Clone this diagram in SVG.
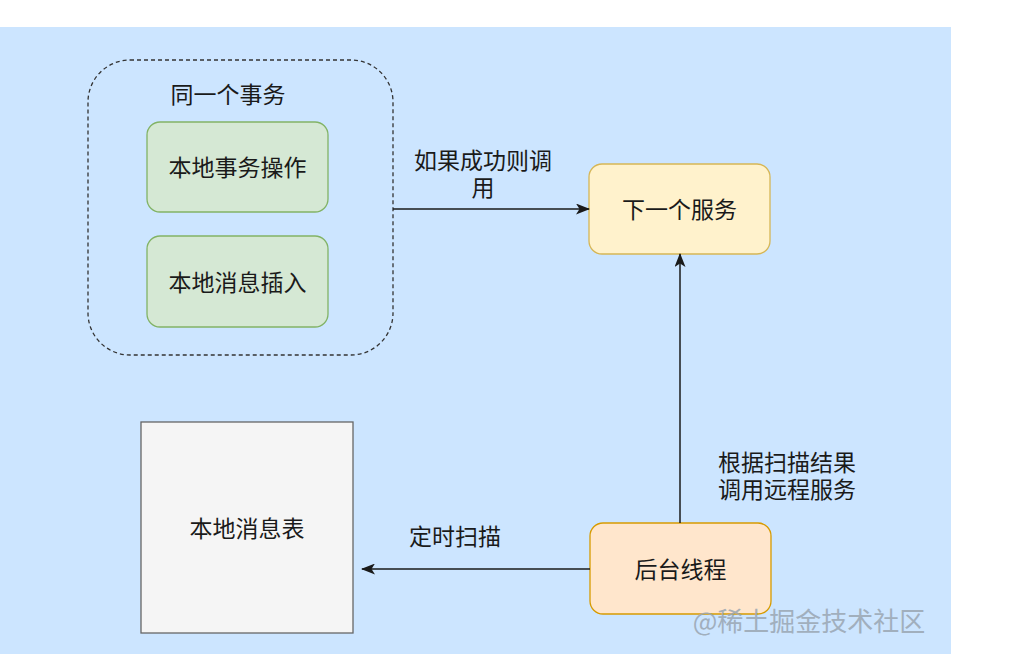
<svg xmlns="http://www.w3.org/2000/svg" width="1010" height="663" viewBox="0 0 1010 663">
<style>
  text { font-family: "Noto Sans CJK SC", "Microsoft YaHei", sans-serif; font-size: 23px; fill: #1a1a1a; }
  .c { text-anchor: middle; dominant-baseline: central; }
  .green { fill: #d5e8d4; stroke: #82b366; stroke-width: 1.3; }
  .yellow { fill: #fff2cc; stroke: #d6b656; stroke-width: 1.3; }
  .orange { fill: #ffe6cc; stroke: #d79b00; stroke-width: 1.3; }
  .conn { fill: none; stroke: #1a1a1a; stroke-width: 1.5; }
</style>
<defs>
  <marker id="arrow" viewBox="0 0 14 11" refX="13" refY="5.5" markerWidth="14" markerHeight="11" markerUnits="userSpaceOnUse" orient="auto">
    <path d="M0,0 L14,5.5 L0,11 L3.5,5.5 Z" fill="#1a1a1a"/>
  </marker>
</defs>
<rect x="0" y="0" width="1010" height="663" fill="#ffffff"/>
<rect x="0" y="27" width="951" height="627" fill="#cce5ff"/>

<g id="transaction-group">
  <rect x="88" y="60" width="305" height="295" rx="42" ry="42" fill="none" stroke="#333333" stroke-width="1.3" stroke-dasharray="4 3"/>
  <text x="228" y="93" class="c">同一个事务</text>
</g>
<g id="local-tx-op">
  <rect class="green" x="147" y="122" width="181" height="90" rx="13" ry="13"/>
  <text x="237.5" y="166" class="c">本地事务操作</text>
</g>
<g id="local-msg-insert">
  <rect class="green" x="147" y="236" width="181" height="91" rx="13" ry="13"/>
  <text x="237.5" y="280.5" class="c">本地消息插入</text>
</g>
<g id="next-service">
  <rect class="yellow" x="589" y="164" width="181" height="90" rx="13" ry="13"/>
  <text x="679.5" y="208" class="c">下一个服务</text>
</g>
<g id="background-thread">
  <rect class="orange" x="590" y="523" width="181" height="91" rx="13" ry="13"/>
  <text x="680.5" y="567.5" class="c">后台线程</text>
</g>
<g id="local-msg-table">
  <rect x="141" y="422" width="212" height="211" fill="#f5f5f5" stroke="#666666" stroke-width="1.3"/>
  <text x="247" y="527" class="c">本地消息表</text>
</g>

<g id="connectors">
  <path class="conn" d="M393,209 L589,209" marker-end="url(#arrow)"/>
  <text class="c"><tspan x="483" y="159">如果成功则调</tspan><tspan x="483" y="186">用</tspan></text>
  <path class="conn" d="M680,523 L680,254" marker-end="url(#arrow)"/>
  <text class="c"><tspan x="787" y="461">根据扫描结果</tspan><tspan x="787" y="488">调用远程服务</tspan></text>
  <path class="conn" d="M590,569 L362,569" marker-end="url(#arrow)"/>
  <text x="455" y="535" class="c">定时扫描</text>
</g>

<text x="809" y="619" class="c" style="font-size:26px; fill:#9aa6b2; opacity:0.85;">@稀土掘金技术社区</text>
</svg>
